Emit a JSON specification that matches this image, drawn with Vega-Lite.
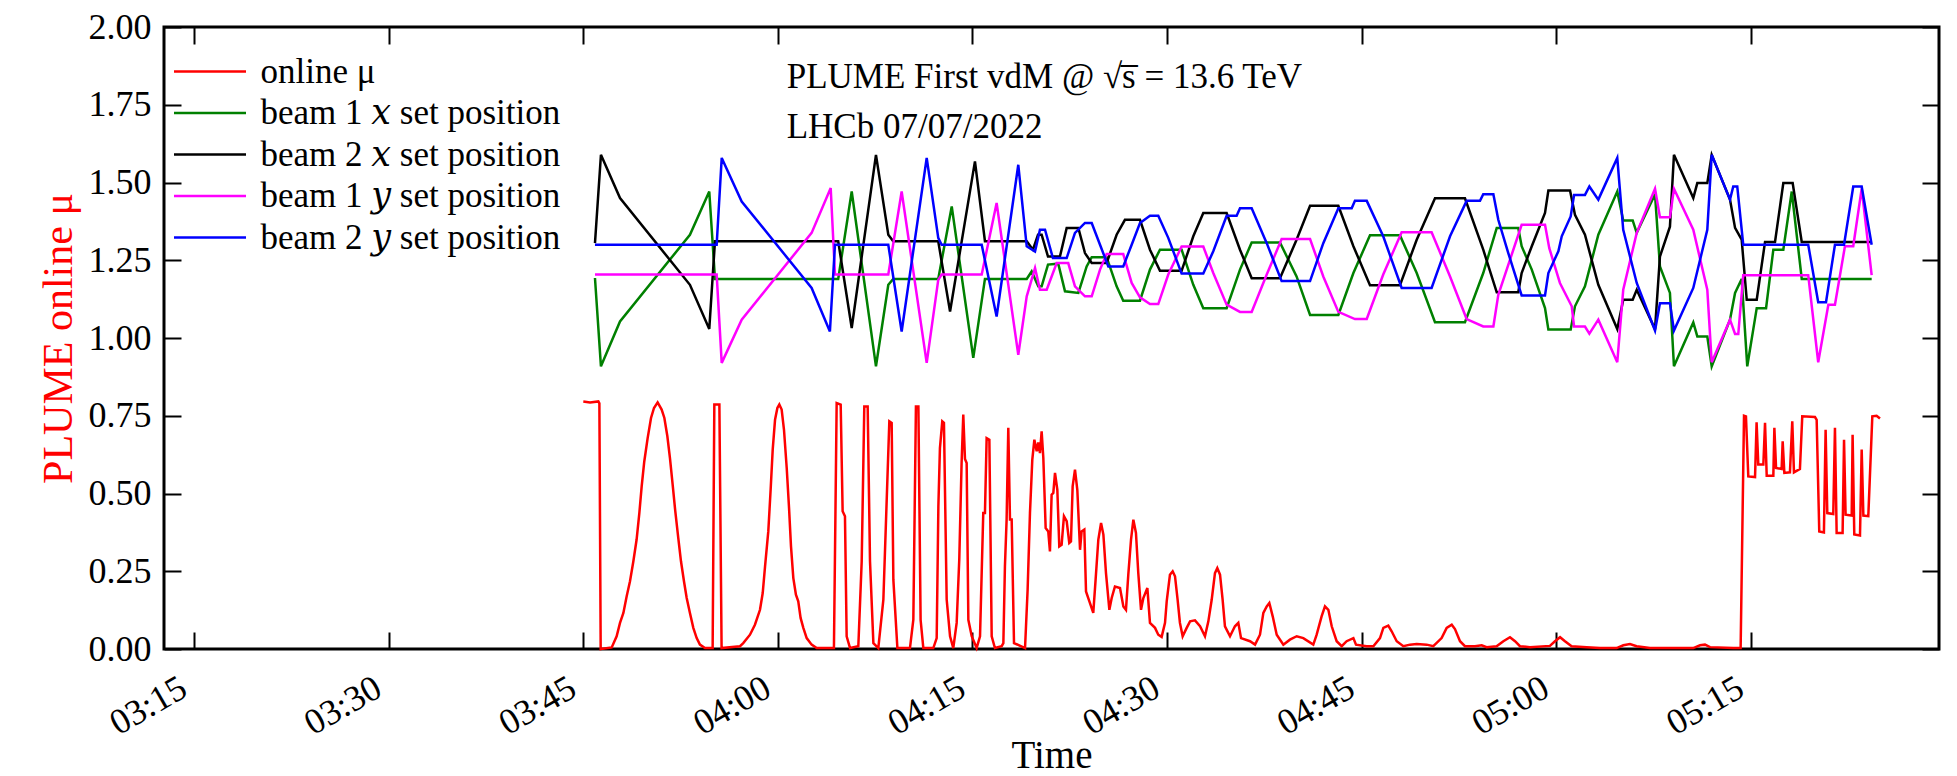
{
  "$schema": "https://vega.github.io/schema/vega-lite/v6.json",
  "width": 1775,
  "height": 622,
  "autosize": {"type": "none"},
  "padding": {"left": 164, "top": 27, "right": 18, "bottom": 127},
  "background": "white",
  "config": {
    "font": "Liberation Serif",
    "view": {"stroke": "#000000", "strokeWidth": 3},
    "axis": {
      "grid": false, "domain": false, "ticks": true, "tickColor": "#000000", "tickWidth": 2, "tickSize": 17, "offset": -17,
      "labelFont": "Liberation Serif", "labelFontSize": 36, "labelColor": "#000000",
      "titleFont": "Liberation Serif", "titleFontSize": 39, "titleFontWeight": "normal", "titleColor": "#000000"
    }
  },
  "datasets": {
    "mu": [
      {"min":45.01,"mu":0.796},{"min":45.53,"mu":0.793},{"min":46.17,"mu":0.796},{"min":46.25,"mu":0.79},{"min":46.35,"mu":0.0},
      {"min":47.2,"mu":0.005},{"min":47.58,"mu":0.041},{"min":47.84,"mu":0.084},{"min":48.1,"mu":0.116},{"min":48.35,"mu":0.169},
      {"min":48.61,"mu":0.218},{"min":48.87,"mu":0.282},{"min":49.12,"mu":0.352},{"min":49.33,"mu":0.437},{"min":49.51,"mu":0.523},
      {"min":49.71,"mu":0.603},{"min":49.97,"mu":0.678},{"min":50.23,"mu":0.743},{"min":50.46,"mu":0.775},{"min":50.74,"mu":0.793},
      {"min":51.05,"mu":0.77},{"min":51.26,"mu":0.743},{"min":51.49,"mu":0.684},{"min":51.69,"mu":0.614},{"min":51.9,"mu":0.528},
      {"min":52.1,"mu":0.443},{"min":52.33,"mu":0.357},{"min":52.54,"mu":0.282},{"min":52.77,"mu":0.218},{"min":52.98,"mu":0.164},
      {"min":53.23,"mu":0.116},{"min":53.49,"mu":0.068},{"min":53.75,"mu":0.035},{"min":54.0,"mu":0.014},{"min":54.39,"mu":0.003},
      {"min":54.98,"mu":0.003},{"min":55.11,"mu":0.786},{"min":55.5,"mu":0.786},{"min":55.67,"mu":0.003},{"min":57.09,"mu":0.009},
      {"min":57.34,"mu":0.019},{"min":57.86,"mu":0.046},{"min":58.24,"mu":0.078},{"min":58.63,"mu":0.126},{"min":58.84,"mu":0.18},
      {"min":59.02,"mu":0.266},{"min":59.27,"mu":0.378},{"min":59.45,"mu":0.512},{"min":59.61,"mu":0.641},{"min":59.79,"mu":0.737},
      {"min":59.97,"mu":0.775},{"min":60.12,"mu":0.786},{"min":60.3,"mu":0.77},{"min":60.48,"mu":0.705},{"min":60.69,"mu":0.582},
      {"min":60.87,"mu":0.453},{"min":61.02,"mu":0.33},{"min":61.2,"mu":0.228},{"min":61.4,"mu":0.175},{"min":61.58,"mu":0.153},
      {"min":61.76,"mu":0.1},{"min":61.97,"mu":0.068},{"min":62.23,"mu":0.035},{"min":62.61,"mu":0.014},{"min":63.0,"mu":0.003},
      {"min":64.33,"mu":0.003},{"min":64.54,"mu":0.791},{"min":64.85,"mu":0.786},{"min":65.0,"mu":0.443},{"min":65.18,"mu":0.427},
      {"min":65.31,"mu":0.041},{"min":65.57,"mu":0.003},{"min":66.21,"mu":0.009},{"min":66.47,"mu":0.282},{"min":66.67,"mu":0.78},
      {"min":66.93,"mu":0.78},{"min":67.11,"mu":0.282},{"min":67.37,"mu":0.019},{"min":67.75,"mu":0.003},{"min":68.14,"mu":0.159},
      {"min":68.6,"mu":0.732},{"min":68.78,"mu":0.727},{"min":68.91,"mu":0.223},{"min":69.22,"mu":0.003},{"min":70.19,"mu":0.003},
      {"min":70.45,"mu":0.094},{"min":70.65,"mu":0.78},{"min":70.84,"mu":0.78},{"min":71.01,"mu":0.094},{"min":71.22,"mu":0.003},
      {"min":71.99,"mu":0.003},{"min":72.25,"mu":0.035},{"min":72.38,"mu":0.459},{"min":72.5,"mu":0.646},{"min":72.68,"mu":0.732},
      {"min":72.81,"mu":0.727},{"min":73.02,"mu":0.159},{"min":73.28,"mu":0.041},{"min":73.53,"mu":0.003},{"min":73.79,"mu":0.084},
      {"min":73.99,"mu":0.287},{"min":74.17,"mu":0.598},{"min":74.3,"mu":0.754},{"min":74.43,"mu":0.611},{"min":74.56,"mu":0.598},
      {"min":74.69,"mu":0.094},{"min":74.95,"mu":0.041},{"min":75.33,"mu":0.003},{"min":75.59,"mu":0.041},{"min":75.84,"mu":0.437},
      {"min":75.97,"mu":0.437},{"min":76.1,"mu":0.678},{"min":76.31,"mu":0.673},{"min":76.49,"mu":0.041},{"min":76.74,"mu":0.003},
      {"min":77.26,"mu":0.009},{"min":77.39,"mu":0.019},{"min":77.51,"mu":0.266},{"min":77.64,"mu":0.416},{"min":77.77,"mu":0.711},
      {"min":77.9,"mu":0.416},{"min":78.03,"mu":0.416},{"min":78.21,"mu":0.019},{"min":79.06,"mu":0.003},{"min":79.26,"mu":0.191},
      {"min":79.44,"mu":0.437},{"min":79.62,"mu":0.609},{"min":79.78,"mu":0.673},{"min":79.96,"mu":0.636},{"min":80.08,"mu":0.664},
      {"min":80.21,"mu":0.63},{"min":80.34,"mu":0.7},{"min":80.47,"mu":0.614},{"min":80.65,"mu":0.389},{"min":80.85,"mu":0.378},
      {"min":80.98,"mu":0.314},{"min":81.11,"mu":0.496},{"min":81.24,"mu":0.502},{"min":81.37,"mu":0.566},{"min":81.55,"mu":0.512},
      {"min":81.7,"mu":0.33},{"min":81.88,"mu":0.335},{"min":82.06,"mu":0.427},{"min":82.27,"mu":0.411},{"min":82.47,"mu":0.341},
      {"min":82.6,"mu":0.346},{"min":82.73,"mu":0.523},{"min":82.91,"mu":0.577},{"min":83.09,"mu":0.512},{"min":83.3,"mu":0.319},
      {"min":83.42,"mu":0.378},{"min":83.63,"mu":0.384},{"min":83.76,"mu":0.185},{"min":84.02,"mu":0.153},{"min":84.32,"mu":0.116},
      {"min":84.5,"mu":0.223},{"min":84.71,"mu":0.352},{"min":84.92,"mu":0.405},{"min":85.1,"mu":0.368},{"min":85.3,"mu":0.244},
      {"min":85.56,"mu":0.126},{"min":85.74,"mu":0.164},{"min":85.99,"mu":0.201},{"min":86.38,"mu":0.196},{"min":86.64,"mu":0.137},
      {"min":86.84,"mu":0.126},{"min":87.02,"mu":0.239},{"min":87.23,"mu":0.352},{"min":87.41,"mu":0.416},{"min":87.61,"mu":0.373},
      {"min":87.79,"mu":0.244},{"min":88.0,"mu":0.126},{"min":88.18,"mu":0.164},{"min":88.49,"mu":0.196},{"min":88.69,"mu":0.084},
      {"min":89.08,"mu":0.068},{"min":89.33,"mu":0.046},{"min":89.59,"mu":0.039},{"min":89.85,"mu":0.084},{"min":89.98,"mu":0.153},
      {"min":90.23,"mu":0.239},{"min":90.44,"mu":0.25},{"min":90.62,"mu":0.234},{"min":90.82,"mu":0.159},{"min":91.0,"mu":0.084},
      {"min":91.21,"mu":0.041},{"min":91.52,"mu":0.068},{"min":91.78,"mu":0.089},{"min":92.16,"mu":0.092},{"min":92.55,"mu":0.073},
      {"min":92.93,"mu":0.041},{"min":93.19,"mu":0.089},{"min":93.45,"mu":0.159},{"min":93.7,"mu":0.244},{"min":93.88,"mu":0.26},
      {"min":94.09,"mu":0.239},{"min":94.29,"mu":0.159},{"min":94.47,"mu":0.073},{"min":94.86,"mu":0.041},{"min":95.24,"mu":0.073},
      {"min":95.5,"mu":0.084},{"min":95.71,"mu":0.035},{"min":96.4,"mu":0.025},{"min":96.79,"mu":0.014},{"min":97.17,"mu":0.046},
      {"min":97.43,"mu":0.116},{"min":97.69,"mu":0.137},{"min":97.89,"mu":0.148},{"min":98.15,"mu":0.105},{"min":98.46,"mu":0.046},
      {"min":98.97,"mu":0.014},{"min":99.48,"mu":0.03},{"min":100.0,"mu":0.041},{"min":100.51,"mu":0.035},{"min":101.28,"mu":0.014},
      {"min":101.54,"mu":0.046},{"min":101.92,"mu":0.105},{"min":102.18,"mu":0.137},{"min":102.44,"mu":0.126},{"min":102.7,"mu":0.073},
      {"min":103.08,"mu":0.025},{"min":103.47,"mu":0.009},{"min":103.85,"mu":0.025},{"min":104.37,"mu":0.035},{"min":104.57,"mu":0.014},
      {"min":105.39,"mu":0.009},{"min":105.91,"mu":0.009},{"min":106.42,"mu":0.035},{"min":106.68,"mu":0.068},{"min":107.06,"mu":0.075},
      {"min":107.32,"mu":0.057},{"min":107.71,"mu":0.025},{"min":108.22,"mu":0.009},{"min":108.73,"mu":0.014},{"min":109.25,"mu":0.016},
      {"min":110.02,"mu":0.014},{"min":110.53,"mu":0.009},{"min":111.17,"mu":0.035},{"min":111.56,"mu":0.068},{"min":111.95,"mu":0.078},
      {"min":112.2,"mu":0.064},{"min":112.59,"mu":0.025},{"min":112.97,"mu":0.009},{"min":113.74,"mu":0.009},{"min":114.26,"mu":0.012},
      {"min":114.64,"mu":0.006},{"min":115.41,"mu":0.009},{"min":115.93,"mu":0.025},{"min":116.44,"mu":0.038},{"min":116.83,"mu":0.025},
      {"min":117.21,"mu":0.009},{"min":117.98,"mu":0.006},{"min":119.52,"mu":0.01},{"min":119.91,"mu":0.025},{"min":120.3,"mu":0.038},
      {"min":120.68,"mu":0.025},{"min":121.19,"mu":0.009},{"min":122.35,"mu":0.006},{"min":123.38,"mu":0.003},{"min":124.66,"mu":0.003},
      {"min":125.18,"mu":0.012},{"min":125.69,"mu":0.016},{"min":126.2,"mu":0.009},{"min":127.23,"mu":0.003},{"min":128.52,"mu":0.003},
      {"min":130.57,"mu":0.003},{"min":131.09,"mu":0.012},{"min":131.47,"mu":0.014},{"min":131.86,"mu":0.006},{"min":133.66,"mu":0.003},
      {"min":134.22,"mu":0.003},{"min":134.48,"mu":0.75},{"min":134.63,"mu":0.748},{"min":134.81,"mu":0.555},{"min":135.33,"mu":0.553},
      {"min":135.45,"mu":0.729},{"min":135.58,"mu":0.593},{"min":135.97,"mu":0.593},{"min":136.1,"mu":0.727},{"min":136.23,"mu":0.557},
      {"min":136.74,"mu":0.557},{"min":136.82,"mu":0.711},{"min":136.95,"mu":0.582},{"min":137.38,"mu":0.579},{"min":137.46,"mu":0.668},
      {"min":137.59,"mu":0.566},{"min":138.02,"mu":0.568},{"min":138.2,"mu":0.732},{"min":138.33,"mu":0.568},{"min":138.79,"mu":0.579},
      {"min":138.97,"mu":0.748},{"min":139.95,"mu":0.746},{"min":140.08,"mu":0.737},{"min":140.28,"mu":0.378},{"min":140.64,"mu":0.375},
      {"min":140.77,"mu":0.705},{"min":140.9,"mu":0.437},{"min":141.36,"mu":0.434},{"min":141.49,"mu":0.711},{"min":141.62,"mu":0.373},
      {"min":142.08,"mu":0.373},{"min":142.19,"mu":0.673},{"min":142.31,"mu":0.432},{"min":142.78,"mu":0.429},{"min":142.85,"mu":0.689},
      {"min":142.98,"mu":0.368},{"min":143.42,"mu":0.365},{"min":143.55,"mu":0.641},{"min":143.68,"mu":0.429},{"min":144.06,"mu":0.427},
      {"min":144.37,"mu":0.748},{"min":144.7,"mu":0.75},{"min":144.96,"mu":0.741}
    ],
    "b1x": [
      {"min":45.91,"pos":1.193},{"min":46.37,"pos":0.909},{"min":47.84,"pos":1.053},{"min":53.23,"pos":1.332},{"min":54.72,"pos":1.471},
      {"min":55.16,"pos":1.19},{"min":64.66,"pos":1.19},{"min":65.7,"pos":1.471},{"min":67.57,"pos":0.909},{"min":68.52,"pos":1.171},
      {"min":68.9,"pos":1.19},{"min":72.37,"pos":1.19},{"min":73.41,"pos":1.423},{"min":75.07,"pos":0.936},{"min":75.97,"pos":1.19},
      {"min":79.19,"pos":1.19},{"min":79.57,"pos":1.214},{"min":80.08,"pos":1.166},{"min":80.34,"pos":1.166},{"min":80.83,"pos":1.236},
      {"min":81.62,"pos":1.239},{"min":82.14,"pos":1.15},{"min":83.17,"pos":1.145},{"min":83.81,"pos":1.23},{"min":84.2,"pos":1.26},
      {"min":85.35,"pos":1.26},{"min":86.12,"pos":1.166},{"min":86.63,"pos":1.12},{"min":87.92,"pos":1.12},{"min":88.69,"pos":1.22},
      {"min":89.46,"pos":1.284},{"min":91.13,"pos":1.284},{"min":92.03,"pos":1.171},{"min":92.8,"pos":1.096},{"min":94.6,"pos":1.096},
      {"min":95.63,"pos":1.22},{"min":96.53,"pos":1.307},{"min":98.71,"pos":1.307},{"min":99.99,"pos":1.198},{"min":101.03,"pos":1.074},
      {"min":103.21,"pos":1.074},{"min":104.37,"pos":1.209},{"min":105.65,"pos":1.33},{"min":107.96,"pos":1.33},{"min":109.25,"pos":1.209},
      {"min":110.66,"pos":1.051},{"min":112.97,"pos":1.051},{"min":114.38,"pos":1.209},{"min":115.42,"pos":1.354},{"min":117.08,"pos":1.354},
      {"min":117.34,"pos":1.295},{"min":118.12,"pos":1.22},{"min":119.14,"pos":1.096},{"min":119.4,"pos":1.027},{"min":121.12,"pos":1.027},
      {"min":121.45,"pos":1.102},{"min":122.22,"pos":1.166},{"min":123.25,"pos":1.332},{"min":124.71,"pos":1.471},{"min":125.17,"pos":1.378},
      {"min":125.9,"pos":1.378},{"min":126.21,"pos":1.338},{"min":127.62,"pos":1.462},{"min":128.0,"pos":1.23},{"min":128.77,"pos":1.145},
      {"min":129.08,"pos":0.909},{"min":130.57,"pos":1.05},{"min":130.88,"pos":1.005},{"min":131.65,"pos":1.005},{"min":131.99,"pos":0.909},
      {"min":133.4,"pos":1.059},{"min":133.79,"pos":1.145},{"min":134.3,"pos":1.19},{"min":134.73,"pos":0.909},{"min":135.46,"pos":1.096},
      {"min":136.18,"pos":1.096},{"min":136.74,"pos":1.284},{"min":137.51,"pos":1.284},{"min":138.16,"pos":1.471},{"min":138.93,"pos":1.19},
      {"min":144.32,"pos":1.19}
    ],
    "b2x": [
      {"min":45.91,"pos":1.305},{"min":46.37,"pos":1.589},{"min":47.84,"pos":1.45},{"min":53.23,"pos":1.171},{"min":54.72,"pos":1.029},
      {"min":55.16,"pos":1.311},{"min":64.66,"pos":1.311},{"min":65.7,"pos":1.032},{"min":67.57,"pos":1.589},{"min":68.52,"pos":1.332},
      {"min":68.9,"pos":1.311},{"min":72.37,"pos":1.311},{"min":73.28,"pos":1.085},{"min":75.2,"pos":1.568},{"min":75.97,"pos":1.311},
      {"min":79.19,"pos":1.311},{"min":79.67,"pos":1.284},{"min":80.06,"pos":1.332},{"min":80.34,"pos":1.332},{"min":80.83,"pos":1.262},
      {"min":81.75,"pos":1.262},{"min":82.27,"pos":1.354},{"min":83.17,"pos":1.354},{"min":83.68,"pos":1.273},{"min":84.2,"pos":1.241},
      {"min":85.35,"pos":1.241},{"min":86.12,"pos":1.332},{"min":86.76,"pos":1.38},{"min":87.92,"pos":1.38},{"min":88.69,"pos":1.284},
      {"min":89.46,"pos":1.216},{"min":91.13,"pos":1.216},{"min":92.03,"pos":1.327},{"min":92.8,"pos":1.402},{"min":94.6,"pos":1.402},
      {"min":95.63,"pos":1.284},{"min":96.53,"pos":1.192},{"min":98.71,"pos":1.192},{"min":99.99,"pos":1.316},{"min":101.03,"pos":1.425},
      {"min":103.21,"pos":1.425},{"min":104.37,"pos":1.295},{"min":105.65,"pos":1.17},{"min":107.96,"pos":1.17},{"min":109.25,"pos":1.316},
      {"min":110.66,"pos":1.449},{"min":112.97,"pos":1.449},{"min":114.38,"pos":1.284},{"min":115.42,"pos":1.147},{"min":117.08,"pos":1.147},
      {"min":117.34,"pos":1.209},{"min":118.12,"pos":1.295},{"min":119.14,"pos":1.402},{"min":119.4,"pos":1.474},{"min":121.07,"pos":1.474},
      {"min":121.45,"pos":1.396},{"min":122.22,"pos":1.332},{"min":123.25,"pos":1.171},{"min":124.71,"pos":1.029},{"min":125.17,"pos":1.123},
      {"min":125.9,"pos":1.123},{"min":126.21,"pos":1.155},{"min":127.62,"pos":1.028},{"min":128.0,"pos":1.262},{"min":128.77,"pos":1.358},
      {"min":129.08,"pos":1.589},{"min":130.57,"pos":1.45},{"min":130.88,"pos":1.498},{"min":131.65,"pos":1.498},{"min":131.99,"pos":1.589},
      {"min":133.4,"pos":1.445},{"min":133.79,"pos":1.354},{"min":134.3,"pos":1.316},{"min":134.69,"pos":1.123},{"min":135.46,"pos":1.123},
      {"min":136.1,"pos":1.309},{"min":136.87,"pos":1.309},{"min":137.51,"pos":1.498},{"min":138.23,"pos":1.498},{"min":138.93,"pos":1.309},
      {"min":144.32,"pos":1.309}
    ],
    "b1y": [
      {"min":45.91,"pos":1.204},{"min":55.29,"pos":1.204},{"min":55.68,"pos":0.92},{"min":57.22,"pos":1.059},{"min":62.61,"pos":1.338},
      {"min":64.08,"pos":1.482},{"min":64.41,"pos":1.204},{"min":68.52,"pos":1.204},{"min":69.55,"pos":1.471},{"min":71.48,"pos":0.92},
      {"min":72.37,"pos":1.187},{"min":72.63,"pos":1.204},{"min":75.72,"pos":1.204},{"min":76.87,"pos":1.434},{"min":78.54,"pos":0.946},
      {"min":79.19,"pos":1.134},{"min":79.83,"pos":1.225},{"min":80.21,"pos":1.155},{"min":80.73,"pos":1.155},{"min":81.5,"pos":1.241},
      {"min":82.39,"pos":1.241},{"min":82.91,"pos":1.166},{"min":83.68,"pos":1.134},{"min":84.2,"pos":1.134},{"min":84.84,"pos":1.22},
      {"min":85.35,"pos":1.27},{"min":86.63,"pos":1.27},{"min":87.28,"pos":1.177},{"min":87.92,"pos":1.131},{"min":88.69,"pos":1.109},
      {"min":89.33,"pos":1.109},{"min":90.1,"pos":1.204},{"min":91.13,"pos":1.294},{"min":92.8,"pos":1.294},{"min":93.57,"pos":1.209},
      {"min":94.6,"pos":1.107},{"min":95.63,"pos":1.084},{"min":96.53,"pos":1.084},{"min":97.69,"pos":1.204},{"min":98.84,"pos":1.318},
      {"min":101.03,"pos":1.318},{"min":102.05,"pos":1.198},{"min":103.21,"pos":1.084},{"min":104.49,"pos":1.061},{"min":105.4,"pos":1.061},
      {"min":106.67,"pos":1.204},{"min":108.09,"pos":1.34},{"min":110.4,"pos":1.34},{"min":111.82,"pos":1.198},{"min":113.1,"pos":1.061},
      {"min":114.38,"pos":1.037},{"min":115.16,"pos":1.037},{"min":115.54,"pos":1.139},{"min":117.34,"pos":1.364},{"min":119.14,"pos":1.364},
      {"min":119.47,"pos":1.289},{"min":120.29,"pos":1.177},{"min":121.2,"pos":1.102},{"min":121.38,"pos":1.037},{"min":122.22,"pos":1.037},
      {"min":122.56,"pos":1.014},{"min":123.25,"pos":1.059},{"min":124.71,"pos":0.922},{"min":125.17,"pos":1.155},{"min":126.21,"pos":1.338},
      {"min":127.62,"pos":1.48},{"min":128.0,"pos":1.388},{"min":128.77,"pos":1.388},{"min":129.08,"pos":1.48},{"min":130.57,"pos":1.348},
      {"min":131.65,"pos":1.155},{"min":131.99,"pos":0.922},{"min":133.4,"pos":1.059},{"min":133.79,"pos":1.013},{"min":134.04,"pos":1.013},
      {"min":134.42,"pos":1.202},{"min":139.43,"pos":1.202},{"min":140.2,"pos":0.922},{"min":140.98,"pos":1.107},{"min":141.49,"pos":1.107},
      {"min":142.26,"pos":1.295},{"min":142.9,"pos":1.295},{"min":143.55,"pos":1.48},{"min":144.32,"pos":1.202}
    ],
    "b2y": [
      {"min":45.91,"pos":1.3},{"min":55.29,"pos":1.3},{"min":55.68,"pos":1.579},{"min":57.22,"pos":1.439},{"min":62.61,"pos":1.161},
      {"min":64.02,"pos":1.021},{"min":64.41,"pos":1.3},{"min":68.52,"pos":1.3},{"min":69.55,"pos":1.021},{"min":71.48,"pos":1.579},
      {"min":72.37,"pos":1.322},{"min":72.63,"pos":1.3},{"min":75.72,"pos":1.3},{"min":76.87,"pos":1.069},{"min":78.54,"pos":1.557},
      {"min":79.19,"pos":1.295},{"min":79.83,"pos":1.278},{"min":80.21,"pos":1.348},{"min":80.6,"pos":1.348},{"min":81.21,"pos":1.257},
      {"min":82.27,"pos":1.257},{"min":82.91,"pos":1.338},{"min":83.68,"pos":1.37},{"min":84.2,"pos":1.37},{"min":84.84,"pos":1.3},
      {"min":85.48,"pos":1.23},{"min":86.63,"pos":1.23},{"min":87.28,"pos":1.3},{"min":87.92,"pos":1.37},{"min":88.69,"pos":1.393},
      {"min":89.33,"pos":1.393},{"min":90.1,"pos":1.322},{"min":91.13,"pos":1.207},{"min":92.8,"pos":1.207},{"min":93.57,"pos":1.279},
      {"min":94.6,"pos":1.393},{"min":95.37,"pos":1.393},{"min":95.63,"pos":1.417},{"min":96.53,"pos":1.417},{"min":97.69,"pos":1.305},
      {"min":98.84,"pos":1.183},{"min":101.03,"pos":1.183},{"min":102.05,"pos":1.305},{"min":103.21,"pos":1.417},{"min":104.24,"pos":1.417},
      {"min":104.49,"pos":1.441},{"min":105.4,"pos":1.441},{"min":106.67,"pos":1.327},{"min":108.09,"pos":1.161},{"min":110.4,"pos":1.161},
      {"min":111.82,"pos":1.327},{"min":113.1,"pos":1.441},{"min":114.13,"pos":1.441},{"min":114.38,"pos":1.462},{"min":115.16,"pos":1.462},
      {"min":115.54,"pos":1.38},{"min":116.31,"pos":1.273},{"min":117.34,"pos":1.137},{"min":119.14,"pos":1.137},{"min":119.4,"pos":1.209},
      {"min":120.17,"pos":1.279},{"min":120.43,"pos":1.327},{"min":121.12,"pos":1.391},{"min":121.38,"pos":1.46},{"min":122.22,"pos":1.46},
      {"min":122.56,"pos":1.487},{"min":123.25,"pos":1.445},{"min":124.71,"pos":1.579},{"min":125.17,"pos":1.348},{"min":126.21,"pos":1.177},
      {"min":127.62,"pos":1.024},{"min":128.0,"pos":1.112},{"min":128.77,"pos":1.112},{"min":129.08,"pos":1.024},{"min":130.57,"pos":1.161},
      {"min":131.65,"pos":1.348},{"min":131.99,"pos":1.589},{"min":133.4,"pos":1.445},{"min":133.65,"pos":1.487},{"min":133.96,"pos":1.487},
      {"min":134.42,"pos":1.3},{"min":139.43,"pos":1.3},{"min":140.2,"pos":1.115},{"min":140.8,"pos":1.115},{"min":141.49,"pos":1.3},
      {"min":142.19,"pos":1.3},{"min":142.9,"pos":1.487},{"min":143.55,"pos":1.487},{"min":144.32,"pos":1.3}
    ],
    "notes": [
      {"min":60.69,"pos":1.84,"text":"PLUME First vdM @ √s̅ = 13.6 TeV"},
      {"min":60.69,"pos":1.679,"text":"LHCb 07/07/2022"}
    ]
  },
  "resolve": {"axis": {"x": "independent", "y": "independent"}},
  "layer": [
    {
      "data": {"name": "mu"},
      "mark": {"type": "line", "strokeWidth": 2.5},
      "encoding": {
        "x": {"field": "min", "type": "quantitative", "scale": {"domain": [12.69, 149.51], "nice": false, "zero": false},
          "axis": {"orient": "bottom", "values": [15,30,45,60,75,90,105,120,135],
            "labelExpr": "timeFormat(datetime(2022, 6, 7, 3, datum.value, 0), '%H:%M')",
            "labelAngle": -30, "labelAlign": "right", "labelBaseline": "top", "labelPadding": 21, "labelOffset": -19,
            "title": "Time", "titleY": 135, "titleBaseline": "alphabetic"}},
        "y": {"field": "mu", "type": "quantitative", "scale": {"domain": [0, 2], "nice": false, "zero": false},
          "axis": {"orient": "left", "values": [0,0.25,0.5,0.75,1,1.25,1.5,1.75,2], "format": ".2f", "labelPadding": 13,
            "title": "PLUME online μ", "titleColor": "#ff0000", "titleFontSize": 42, "titleX": -110, "titleY": 311,
            "titleAngle": -90, "titleAlign": "center", "titleBaseline": "alphabetic"}},
        "color": {"datum": "online μ", "type": "nominal",
          "scale": {"domain": ["online μ", "beam 1 x set position", "beam 2 x set position", "beam 1 y set position", "beam 2 y set position"],
                    "range": ["#ff0000", "#008000", "#000000", "#ff00ff", "#0000ff"]},
          "legend": {"orient": "none", "legendX": 28.5, "legendY": 27, "title": null, "padding": 0,
            "symbolType": "M-4,0H4", "symbolSize": 324, "symbolStrokeWidth": 2.5,
            "labelFont": "Liberation Serif, DejaVu Serif", "labelFontSize": 35, "labelColor": "#000000", "labelOffset": 33, "labelLimit": 0,
            "rowPadding": 5.5,
            "labelExpr": "replace(replace(datum.label, ' x ', ' 𝑥 '), ' y ', ' 𝑦 ')"}}
      }
    },
    {
      "data": {"name": "b1x"},
      "mark": {"type": "line", "strokeWidth": 2.5},
      "encoding": {
        "x": {"field": "min", "type": "quantitative", "scale": {"domain": [12.69, 149.51], "nice": false, "zero": false},
          "axis": {"orient": "top", "values": [15,30,45,60,75,90,105,120,135], "labels": false, "title": null}},
        "y": {"field": "pos", "type": "quantitative", "scale": {"domain": [0, 2], "nice": false, "zero": false},
          "axis": {"orient": "right", "values": [0,0.25,0.5,0.75,1,1.25,1.5,1.75,2], "labels": false, "title": null}},
        "color": {"datum": "beam 1 x set position", "type": "nominal"}
      }
    },
    {
      "data": {"name": "b2x"},
      "mark": {"type": "line", "strokeWidth": 2.5},
      "encoding": {
        "x": {"field": "min", "type": "quantitative", "axis": null},
        "y": {"field": "pos", "type": "quantitative", "axis": null},
        "color": {"datum": "beam 2 x set position", "type": "nominal"}
      }
    },
    {
      "data": {"name": "b1y"},
      "mark": {"type": "line", "strokeWidth": 2.5},
      "encoding": {
        "x": {"field": "min", "type": "quantitative", "axis": null},
        "y": {"field": "pos", "type": "quantitative", "axis": null},
        "color": {"datum": "beam 1 y set position", "type": "nominal"}
      }
    },
    {
      "data": {"name": "b2y"},
      "mark": {"type": "line", "strokeWidth": 2.5},
      "encoding": {
        "x": {"field": "min", "type": "quantitative", "axis": null},
        "y": {"field": "pos", "type": "quantitative", "axis": null},
        "color": {"datum": "beam 2 y set position", "type": "nominal"}
      }
    },
    {
      "data": {"name": "notes"},
      "mark": {"type": "text", "align": "left", "baseline": "middle", "font": "Liberation Serif", "fontSize": 35, "color": "#000000"},
      "encoding": {
        "x": {"field": "min", "type": "quantitative", "axis": null},
        "y": {"field": "pos", "type": "quantitative", "axis": null},
        "text": {"field": "text"}
      }
    }
  ]
}
